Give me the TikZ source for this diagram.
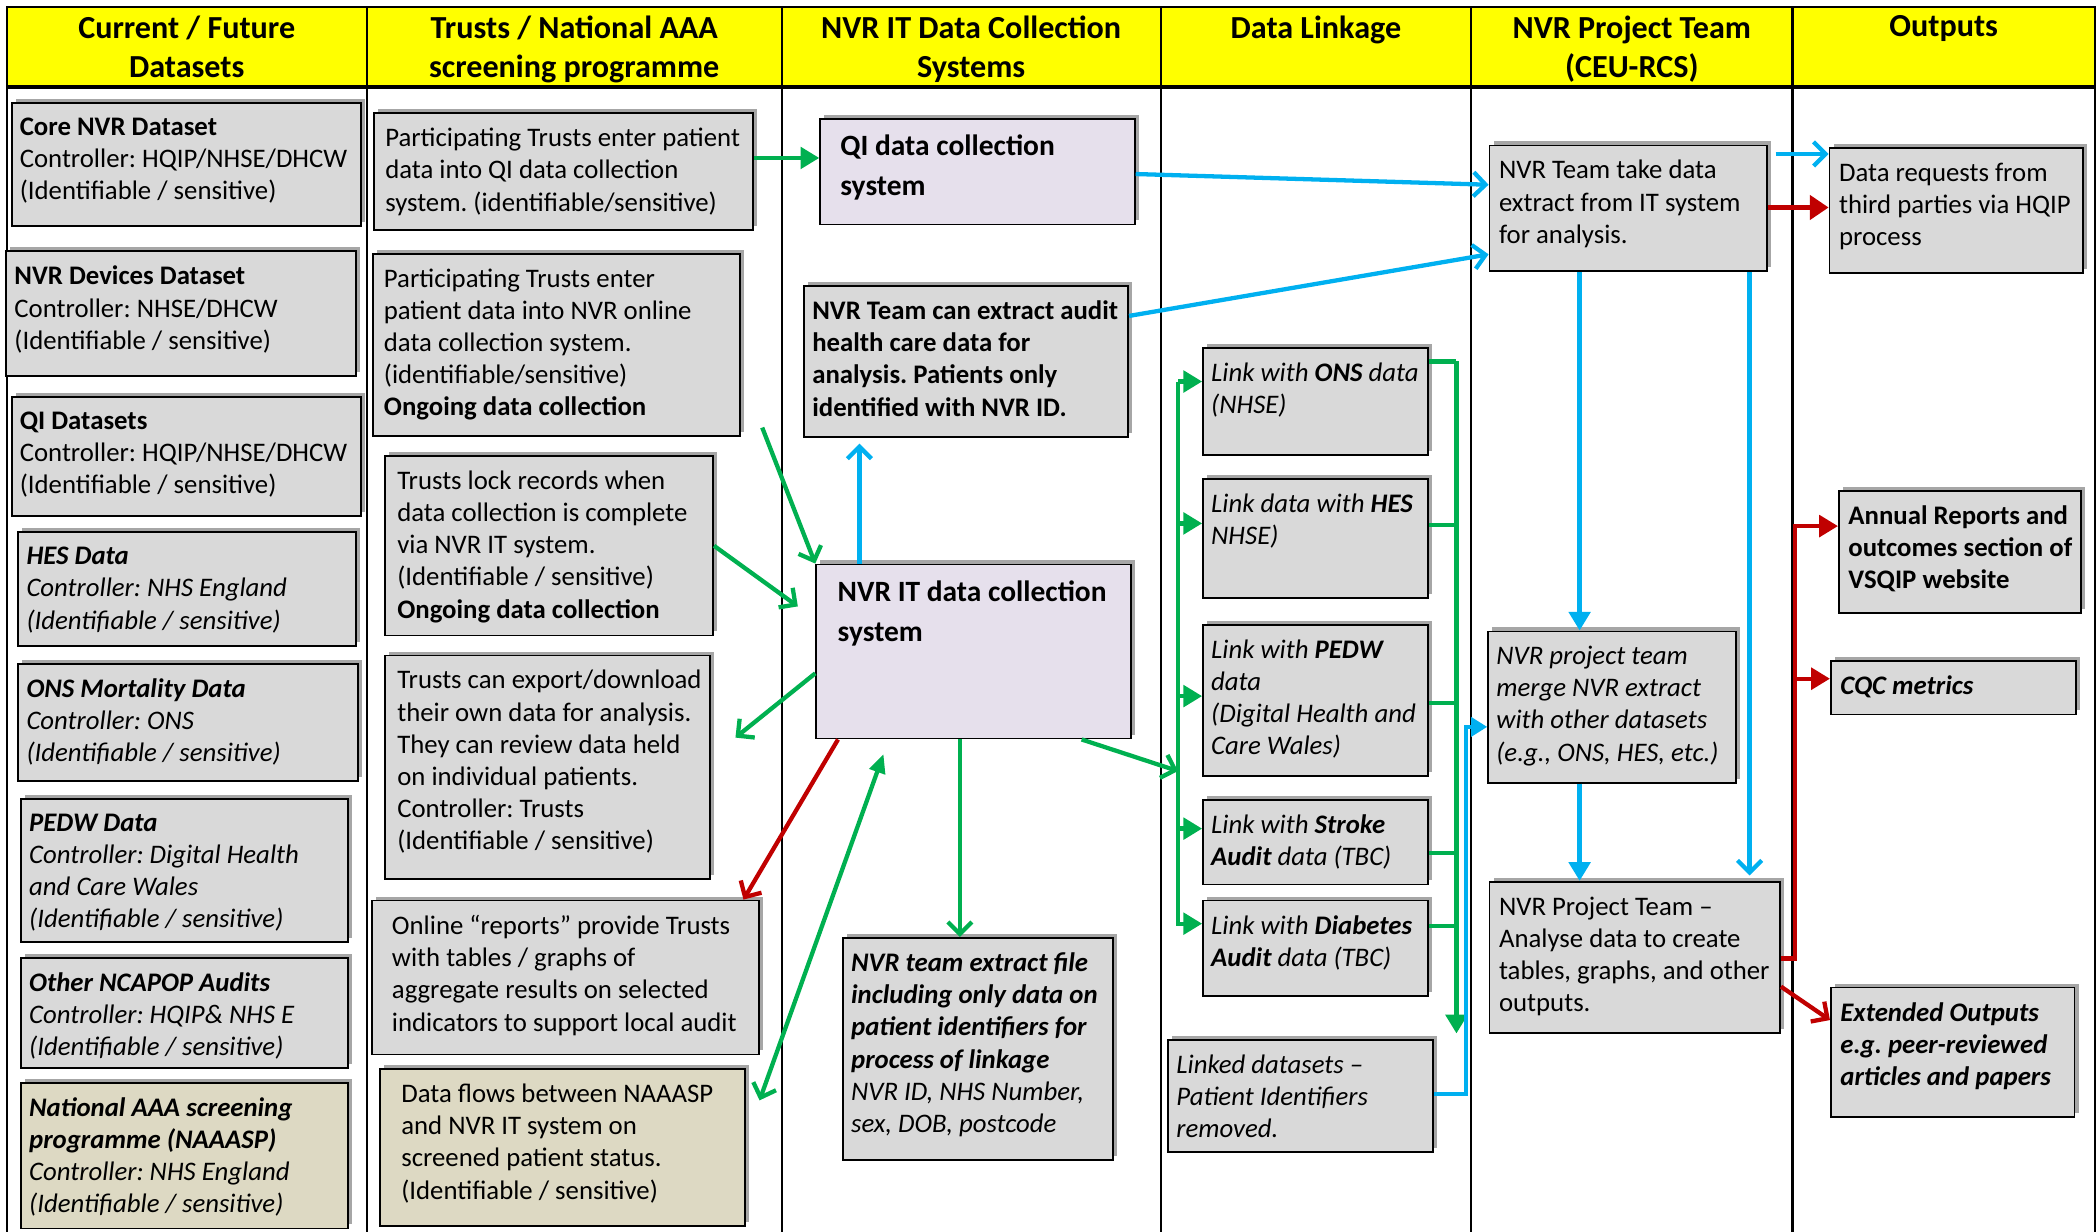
\documentclass[tikz,border=0pt]{standalone}
\usepackage{fontspec}
\setmainfont{Carlito}
\usetikzlibrary{arrows.meta,shadows}
\frenchspacing

\definecolor{hdrYellow}{HTML}{FFFF00}
\definecolor{boxGray}{HTML}{D9D9D9}
\definecolor{sysLilac}{HTML}{E6E0EC}
\definecolor{aaaTan}{HTML}{DDD9C3}
\definecolor{flowGreen}{HTML}{00B050}
\definecolor{flowBlue}{HTML}{00B0F0}
\definecolor{flowRed}{HTML}{C00000}

\tikzset{every picture/.style={x=0.5pt, y=-0.5pt, line width=0.8pt},
        dataBox/.style={draw=black, fill=boxGray, line width=0.7pt, inner sep=0pt, anchor=north west,
                drop shadow={shadow xshift=1.5pt, shadow yshift=1.5pt, opacity=0.35, fill=black}},
        boxSize/.style 2 args={minimum width=#1*0.5pt, minimum height=#2*0.5pt},
        boxText/.style={anchor=north west, align=left, inner xsep=3pt, inner ysep=5.5pt,
                font=\fontsize{10}{12}\selectfont},
        itText/.style={boxText, font=\fontsize{10}{12}\selectfont\itshape},
        sysText/.style={boxText, inner xsep=7.5pt, inner ysep=6pt, font=\fontsize{11}{15}\selectfont\bfseries},
        colHead/.style={anchor=north, align=center, inner sep=3pt, font=\fontsize{12}{14.5}\selectfont\bfseries},
        flow/.style={line width=1.6pt},
        barb/.style={-{Straight Barb[length=4.5pt, width=9pt]}},
        tri/.style={-{Triangle[length=7pt, width=8pt]}}}

\begin{document}
\begin{tikzpicture}

\useasboundingbox (0,0) rectangle (1568,920);

% draw header and swim lanes
\fill[hdrYellow] (5,5) rectangle (1565,65);
\draw (5,930) -- (5,5) -- (1565,5) -- (1565,930);
\draw[line width=1.2pt] (5,65) -- (1565,65);
\foreach \x in {274,584,867,1099,1339} {
    \draw (\x,5) -- (\x,930);
}

\node[colHead] (h1) at (139.5,5) {Current / Future\\Datasets};
\node[colHead] (h2) at (429,5) {Trusts / National AAA\\screening programme};
\node[colHead] (h3) at (725.5,5) {NVR IT Data Collection\\Systems};
\node[colHead] (h4) at (983,5) {Data Linkage};
\node[colHead] (h5) at (1219,5) {NVR Project Team\\(CEU-RCS)};
\node[colHead] (h6) at (1452,5) {Outputs};

% column 1: datasets
\node[dataBox, boxSize={261}{92}, label={[boxText]north west:{\textbf{Core NVR Dataset}\\Controller: HQIP/NHSE/DHCW\\(Identifiable / sensitive)}}] (core) at (8,76) {};
\node[dataBox, boxSize={261}{93}, label={[boxText]north west:{\textbf{NVR Devices Dataset}\\Controller: NHSE/DHCW\\(Identifiable / sensitive)}}] (devices) at (4,187) {};
\node[dataBox, boxSize={261}{89}, label={[boxText]north west:{\textbf{QI Datasets}\\Controller: HQIP/NHSE/DHCW\\(Identifiable / sensitive)}}] (qids) at (8,296) {};
\node[dataBox, boxSize={252}{85}, label={[itText]north west:{\textbf{HES Data}\\Controller: NHS England\\(Identifiable / sensitive)}}] (hes) at (13,397) {};
\node[dataBox, boxSize={254}{88}, label={[itText]north west:{\textbf{ONS Mortality Data}\\Controller: ONS\\(Identifiable / sensitive)}}] (ons) at (13,495) {};
\node[dataBox, boxSize={244}{107}, label={[itText]north west:{\textbf{PEDW Data}\\Controller: Digital Health\\and Care Wales\\(Identifiable / sensitive)}}] (pedw) at (15,596) {};
\node[dataBox, boxSize={244}{82}, label={[itText]north west:{\textbf{Other NCAPOP Audits}\\Controller: HQIP\& NHS E\\(Identifiable / sensitive)}}] (ncapop) at (15,715) {};
\node[dataBox, fill=aaaTan, boxSize={244}{109}, label={[itText]north west:{\textbf{National AAA screening}\\\textbf{programme (NAAASP)}\\Controller: NHS England\\(Identifiable / sensitive)}}] (naaasp) at (15,808) {};

% column 2: trusts
\node[dataBox, boxSize={283}{87}, label={[boxText, inner xsep=4pt]north west:{Participating Trusts enter patient\\data into QI data collection\\system. (identifiable/sensitive)}}] (p1) at (279,84) {};
\node[dataBox, boxSize={274}{136}, label={[boxText, inner xsep=4pt]north west:{Participating Trusts enter\\patient data into NVR online\\data collection system.\\(identifiable/sensitive)\\\textbf{Ongoing data collection}}}] (p2) at (278,189) {};
\node[dataBox, boxSize={245}{134}, label={[boxText, inner xsep=4.5pt]north west:{Trusts lock records when\\data collection is complete\\via NVR IT system.\\(Identifiable / sensitive)\\\textbf{Ongoing data collection}}}] (lock) at (287,340) {};
\node[dataBox, boxSize={243}{167}, label={[boxText, inner xsep=4.5pt]north west:{Trusts can export/download\\their own data for analysis.\\They can review data held\\on individual patients.\\Controller: Trusts\\(Identifiable / sensitive)}}] (export) at (287,489) {};
\node[dataBox, boxSize={289}{115}, label={[boxText, inner xsep=7.5pt]north west:{Online “reports” provide Trusts\\with tables / graphs of\\aggregate results on selected\\indicators to support local audit}}] (online) at (277,672) {};
\node[dataBox, fill=aaaTan, boxSize={273}{117}, label={[boxText, inner xsep=8pt]north west:{Data flows between NAAASP\\and NVR IT system on\\screened patient status.\\(Identifiable / sensitive)}}] (flows) at (283,798) {};

% column 3: IT systems
\node[dataBox, fill=sysLilac, boxSize={235}{79}, label={[sysText]north west:{QI data collection\\system}}] (qisys) at (612,88) {};
\node[dataBox, boxSize={242}{113}, label={[boxText, font=\fontsize{10}{12}\selectfont\bfseries]north west:{NVR Team can extract audit\\health care data for\\analysis. Patients only\\identified with NVR ID.}}] (extract) at (600,213) {};
\node[dataBox, fill=sysLilac, boxSize={235}{130}, label={[sysText, inner xsep=8pt]north west:{NVR IT data collection\\system}}] (itsys) at (609,421) {};
\node[dataBox, boxSize={202}{166}, label={[itText]north west:{\textbf{NVR team extract file}\\\textbf{including only data on}\\\textbf{patient identifiers for}\\\textbf{process of linkage}\\NVR ID, NHS Number,\\sex, DOB, postcode}}] (linkfile) at (629,700) {};

% column 4: linkage
\node[dataBox, boxSize={168}{80}, label={[itText]north west:{Link with \textbf{ONS} data\\(NHSE)}}] (lons) at (898,259) {};
\node[dataBox, boxSize={168}{89}, label={[itText]north west:{Link data with \textbf{HES}\\NHSE)}}] (lhes) at (898,357) {};
\node[dataBox, boxSize={168}{113}, label={[itText]north west:{Link with \textbf{PEDW}\\data\\(Digital Health and\\Care Wales)}}] (lpedw) at (898,466) {};
\node[dataBox, boxSize={168}{63}, label={[itText]north west:{Link with \textbf{Stroke}\\\textbf{Audit} data (TBC)}}] (lstroke) at (898,597) {};
\node[dataBox, boxSize={168}{71}, label={[itText]north west:{Link with \textbf{Diabetes}\\\textbf{Audit} data (TBC)}}] (ldiab) at (898,672) {};
\node[dataBox, boxSize={198}{84}, label={[itText]north west:{Linked datasets –\\Patient Identifiers\\removed.}}] (linked) at (872,776) {};

% column 5: project team
\node[dataBox, boxSize={207}{94}, label={[boxText, inner xsep=3.5pt]north west:{NVR Team take data\\extract from IT system\\for analysis.}}] (take) at (1112,108) {};
\node[dataBox, boxSize={185}{113}, label={[itText]north west:{NVR project team\\merge NVR extract\\with other datasets\\(e.g., ONS, HES, etc.)}}] (merge) at (1111,471) {};
\node[dataBox, boxSize={217}{113}, label={[boxText, inner xsep=3.5pt]north west:{NVR Project Team –\\Analyse data to create\\tables, graphs, and other\\outputs.}}] (analyse) at (1112,658) {};

% column 6: outputs
\node[dataBox, boxSize={189}{93}, label={[boxText, inner xsep=3.5pt]north west:{Data requests from\\third parties via HQIP\\process}}] (req) at (1366,110) {};
\node[dataBox, boxSize={181}{91}, label={[boxText, inner xsep=3.5pt, font=\fontsize{10}{12}\selectfont\bfseries]north west:{Annual Reports and\\outcomes section of\\VSQIP website}}] (annual) at (1373,366) {};
\node[dataBox, boxSize={183}{40}, label={[boxText, inner xsep=3.5pt, font=\fontsize{10}{12}\selectfont\bfseries\itshape]north west:{CQC metrics}}] (cqc) at (1367,493) {};
\node[dataBox, boxSize={182}{97}, label={[boxText, inner xsep=3.5pt, font=\fontsize{10}{12}\selectfont\bfseries\itshape]north west:{Extended Outputs\\e.g. peer-reviewed\\articles and papers}}] (ext) at (1367,737) {};

% green flows
\draw[flow, flowGreen, tri] (p1.east |- 0,118) -- (qisys.west |- 0,118);
\draw[flow, flowGreen, barb] ([xshift=8pt, yshift=3.5pt]p2.south east) -- (itsys.north west);
\draw[flow, flowGreen, barb] (lock.east) -- ([xshift=-6.5pt]itsys.west |- 0,453);
\draw[flow, flowGreen, barb] (itsys.west |- 0,503) -- ([xshift=9pt]export.east |- 0,551);
\draw[flow, flowGreen, {Straight Barb[length=4.5pt, width=9pt]}-{Triangle[length=7pt, width=6pt]}] ([xshift=5pt]flows.east |- 0,822) -- ([shift={(25.5pt,-5.5pt)}]itsys.south west);
\draw[flow, flowGreen, barb] (itsys.south -| 717,0) -- (linkfile.north -| 717,0);

\coordinate (linkIn) at (880,285);
\coordinate (linkInEnd) at (880,692);
\draw[flow, flowGreen, barb] (itsys.south -| 808,0) -- (linkIn |- 0,576);
\draw[flow, flowGreen] (linkIn) -- (linkInEnd);
\foreach \lk/\y in {lons/285, lhes/391, lpedw/520, lstroke/619, ldiab/690} {
    \draw[flow, flowGreen, tri] (880,\y) -- (\lk.west |- 0,\y);
}

\coordinate (linkOut) at (1088,270);
\coordinate (linkOutEnd) at (1088,772);
\foreach \lk/\y in {lons/270, lhes/392, lpedw/525, lstroke/637, ldiab/692} {
    \draw[flow, flowGreen] (\lk.east |- 0,\y) -- (1088,\y);
}
\draw[flow, flowGreen, tri] (linkOut) -- (linkOutEnd);

% blue flows
\draw[flow, flowBlue, barb] (qisys.east |- 0,130) -- (take.west |- 0,138);
\draw[flow, flowBlue, barb] (extract.east |- 0,236) -- (take.west |- 0,190);
\draw[flow, flowBlue, barb] (itsys.north -| 642,0) -- ([yshift=-2pt]extract.south -| 642,0);
\draw[flow, flowBlue, barb] ([xshift=3pt]take.east |- 0,115) -- (req.west |- 0,115);
\draw[flow, flowBlue, tri] (take.south -| 1180,0) -- (merge.north -| 1180,0);
\draw[flow, flowBlue, barb] (take.south -| 1307,0) -- ([yshift=2pt]analyse.north -| 1307,0);
\draw[flow, flowBlue, tri] (merge.south -| 1180,0) -- (analyse.north -| 1180,0);
\draw[flow, flowBlue, -{Triangle[length=6pt, width=7pt]}] (linked.east |- 0,817) -- (1095,817) -- (1095,543) -- (merge.west |- 0,543);

% red flows
\draw[flow, flowRed, -{Triangle[length=7pt, width=9pt]}] (take.east |- 0,155) -- (req.west |- 0,155);
\draw[flow, flowRed, barb] (itsys.south -| 626,0) -- ([xshift=-6pt]online.north east);
\coordinate (outBus) at (1341,716);
\draw[flow, flowRed, tri] (analyse.east |- outBus) -- (outBus) -- (1341,393) -- (annual.west |- 0,393);
\draw[flow, flowRed, tri] (1341,507) -- (cqc.west |- 0,507);
\draw[flow, flowRed, barb] (analyse.east |- 0,737) -- (ext.west |- 0,762);

\end{tikzpicture}
\end{document}
